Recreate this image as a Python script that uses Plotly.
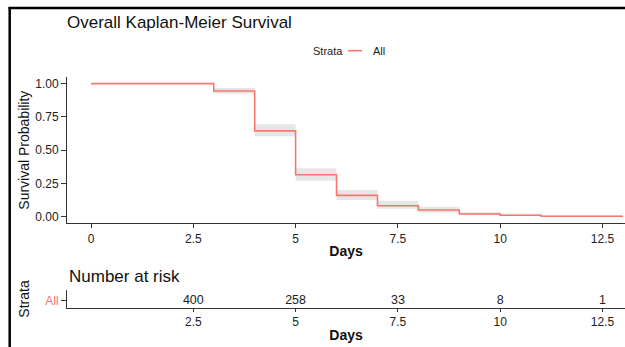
import plotly.graph_objects as go

# ---- data ----
times = [0, 3, 4, 5, 6, 7, 8, 9, 10, 11, 13]
surv = [1.0, 0.945, 0.645, 0.315, 0.16, 0.0825, 0.05, 0.02, 0.01, 0.0025, 0.0025]
upper = [1.0, 0.968, 0.695, 0.363, 0.20, 0.12, 0.075, 0.035, 0.022, 0.008, 0.008]
lower = [1.0, 0.925, 0.605, 0.27, 0.125, 0.06, 0.03, 0.01, 0.004, 0.0005, 0.0005]
risk_times = [2.5, 5, 7.5, 10, 12.5]
risk_counts = [400, 258, 33, 8, 1]
x_ticks = [0, 2.5, 5, 7.5, 10, 12.5]
x_ticklabels = ["0", "2.5", "5", "7.5", "10", "12.5"]
y_ticks = [0, 0.25, 0.5, 0.75, 1.0]
y_ticklabels = ["0.00", "0.25", "0.50", "0.75", "1.00"]
strata = "All"
legend_title = "Strata"

RED = "#F8766D"
FONT = "Liberation Sans, Arial, sans-serif"
TXT = "#222222"

# ---- layout geometry (pixels) ----
W, H = 625, 347
L, R, T = 67, 0, 77
B_PIX = 308
plot_h = B_PIX - T
def py(p):
    return (B_PIX - p) / plot_h
def px(p):
    return (p - L) / (W - L - R)

main_dom = [py(223.3), 1.0]
risk_dom = [0.0, py(290)]
xr = [-0.587, 13.05]

fig = go.Figure()

# confidence band
fig.add_trace(go.Scatter(x=times, y=upper, mode="lines", line=dict(width=0, shape="hv"),
                         hoverinfo="skip", showlegend=False, xaxis="x", yaxis="y"))
fig.add_trace(go.Scatter(x=times, y=lower, mode="lines", line=dict(width=0, shape="hv"),
                         fill="tonexty", fillcolor="rgba(222,222,222,0.75)",
                         hoverinfo="skip", showlegend=False, xaxis="x", yaxis="y"))
# survival curve
fig.add_trace(go.Scatter(x=times, y=surv, mode="lines", name=strata,
                         line=dict(color=RED, width=1.6, shape="hv"),
                         showlegend=False, xaxis="x", yaxis="y"))
# risk table
fig.add_trace(go.Scatter(x=risk_times, y=[1] * len(risk_times), mode="text",
                         text=[str(v) for v in risk_counts],
                         textfont=dict(family=FONT, size=12.5, color=TXT),
                         textposition="middle center", showlegend=False,
                         xaxis="x2", yaxis="y2"))

axis_common = dict(showline=True, linecolor="#333333", linewidth=1, showgrid=False,
                   zeroline=False, ticks="outside", tickcolor="#333333",
                   tickfont=dict(family=FONT, size=12, color=TXT))

fig.update_layout(
    width=W, height=H,
    margin=dict(l=L, r=R, t=T, b=H - B_PIX, autoexpand=False),
    paper_bgcolor="white", plot_bgcolor="white",
    font=dict(family=FONT, color=TXT),
    showlegend=False,
    title=dict(text="Overall Kaplan-Meier Survival", x=0, xref="paper", xanchor="left",
               y=1 - 21.7 / H, yref="container", yanchor="middle",
               font=dict(family=FONT, size=17, color="#111111")),
    xaxis=dict(domain=[0, 1], range=xr, anchor="y", tickvals=x_ticks, ticktext=x_ticklabels,
               ticklen=4, title=dict(text="<b>Days</b>", standoff=1,
                                     font=dict(family=FONT, size=14, color="#111111")),
               **axis_common),
    yaxis=dict(domain=main_dom, range=[-0.05, 1.05], anchor="x", tickvals=y_ticks,
               ticktext=y_ticklabels, ticklen=5,
               title=dict(text="Survival Probability", standoff=2,
                          font=dict(family=FONT, size=14, color="#111111")),
               **axis_common),
    xaxis2=dict(domain=[0, 1], range=xr, anchor="y2", tickvals=risk_times,
                ticktext=[str(v) for v in risk_times], ticklen=3,
                title=dict(text="<b>Days</b>", standoff=1,
                           font=dict(family=FONT, size=14, color="#111111")),
                **axis_common),
    yaxis2=dict(domain=risk_dom, range=[0.6, 1.6], anchor="x2", tickvals=[1], ticktext=[strata],
                ticklen=5, title=dict(text="Strata", standoff=12,
                                      font=dict(family=FONT, size=14, color="#111111")),
                **{k: v for k, v in axis_common.items() if k != "tickfont"},
                tickfont=dict(family=FONT, size=12, color=RED)),
    annotations=[
        dict(text="Number at risk", x=0, xref="paper", xanchor="left",
             y=py(276.7), yref="paper", yanchor="middle", showarrow=False,
             font=dict(family=FONT, size=17, color="#111111")),
        # legend
        dict(text=legend_title, x=px(311), xref="paper", xanchor="left",
             y=py(50.7), yref="paper", yanchor="middle", showarrow=False,
             font=dict(family=FONT, size=11, color=TXT)),
        dict(text=strata, x=px(371), xref="paper", xanchor="left",
             y=py(50.7), yref="paper", yanchor="middle", showarrow=False,
             font=dict(family=FONT, size=11, color=TXT)),
    ],
    shapes=[
        dict(type="line", xref="paper", yref="paper", x0=px(348), x1=px(362),
             y0=py(50.7), y1=py(50.7), line=dict(color=RED, width=1.6)),
        dict(type="line", xref="paper", yref="paper", x0=px(8.5), x1=1.0, y0=py(8), y1=py(8),
             line=dict(color="black", width=2.5)),
        dict(type="line", xref="paper", yref="paper", x0=px(9.7), x1=px(9.7), y0=py(7), y1=py(347),
             line=dict(color="black", width=2.5)),
    ],
)

fig.write_html("out.html", config={"displayModeBar": False},
               post_script="document.body.style.margin='0px';document.body.style.overflow='hidden';")
